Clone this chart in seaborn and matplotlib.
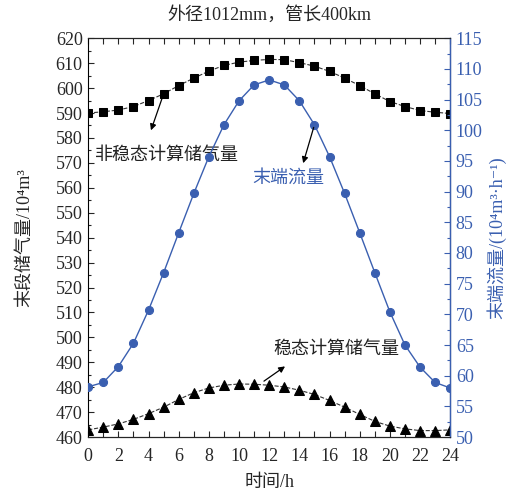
import matplotlib.pyplot as plt
import pandas as pd
import seaborn as sns
from matplotlib.ticker import MultipleLocator

sns.set_style('ticks')
plt.rcParams.update({
    'font.family': ['Liberation Serif', 'Noto Sans CJK SC', 'DejaVu Serif'],
    'font.size': 13,
    'xtick.direction': 'in',
    'ytick.direction': 'in',
    'axes.unicode_minus': False,
})

# data
hours = list(range(25))
unsteady_storage = [590.0, 590.5, 591.2, 592.6, 595.0, 597.7, 601.0, 604.0, 606.8, 609.1, 610.4,
                    611.1, 611.5, 611.4, 610.2, 608.8, 606.7, 604.0, 601.0, 597.7, 594.6,
                    592.6, 591.0, 590.3, 589.8]
steady_storage = [462.9, 464.0, 465.3, 467.1, 469.4, 472.0, 475.1, 477.8, 479.7, 480.8, 481.3,
                  481.2, 480.8, 480.1, 478.8, 477.1, 474.7, 472.0, 469.1, 466.3, 464.4,
                  463.3, 462.6, 462.6, 462.9]
end_flow = [58.2, 58.9, 61.5, 65.3, 70.7, 76.8, 83.3, 89.7, 95.7, 100.9, 104.8,
            107.4, 108.2, 107.4, 104.8, 100.9, 95.7, 89.7, 83.3, 76.8, 70.4,
            65.0, 61.4, 58.9, 58.0]

df = pd.DataFrame({'hour': hours, 'unsteady': unsteady_storage,
                   'steady': steady_storage, 'flow': end_flow})

blue = '#3a5fb0'

fig = plt.figure(figsize=(5.07, 4.9), dpi=100)
ax = fig.add_axes([0.174, 0.108, 0.714, 0.814])
ax2 = ax.twinx()

sns.lineplot(data=df, x='hour', y='unsteady', ax=ax, color='#333333', lw=0.8,
             linestyle='--', marker='s', markersize=5.5, markeredgecolor='black',
             markerfacecolor='black')
sns.lineplot(data=df, x='hour', y='steady', ax=ax, color='#333333', lw=0.8,
             linestyle='--', marker='^', markersize=7, markeredgecolor='black',
             markerfacecolor='black')
sns.lineplot(data=df, x='hour', y='flow', ax=ax2, color=blue, lw=1.0,
             marker='o', markersize=5.8, markeredgecolor=blue, markerfacecolor=blue)

ax.set_xlim(0, 24)
ax.set_ylim(460, 620)
ax2.set_ylim(50, 115)
ax.xaxis.set_major_locator(MultipleLocator(2))
ax.xaxis.set_minor_locator(MultipleLocator(1))
ax.yaxis.set_major_locator(MultipleLocator(10))
ax.yaxis.set_minor_locator(MultipleLocator(5))
ax2.yaxis.set_major_locator(MultipleLocator(5))
ax2.yaxis.set_minor_locator(MultipleLocator(2.5))

ax.tick_params(axis='x', which='both', top=True, length=4, width=0.8, pad=8, labelsize=13)
ax.tick_params(axis='y', which='major', length=4, width=0.8, labelsize=13, pad=4)
ax.tick_params(axis='y', which='minor', length=2, width=0.8)
ax2.tick_params(axis='y', which='major', length=4, width=0.8, colors=blue, labelsize=13, pad=4)
ax2.tick_params(axis='y', which='minor', length=2, width=0.8, colors=blue)

for s in ax.spines.values():
    s.set_linewidth(0.8)
    s.set_color('black')
ax2.spines['right'].set_color(blue)
ax2.spines['right'].set_linewidth(1.0)
ax2.spines['left'].set_visible(False)

ax.set_xlabel('时间/h', fontsize=13, labelpad=6)
ax.set_ylabel('末段储气量/10⁴m³', fontsize=13, labelpad=16)
ax2.set_ylabel('末端流量/(10⁴m³·h⁻¹)', fontsize=13, color=blue, labelpad=3)
ax.set_title('外径1012mm，管长400km', fontsize=13, pad=13)

# annotations
ax.annotate('', xy=(4.1, 582.0), xytext=(5, 597.7),
            arrowprops=dict(arrowstyle='-|>', color='black', lw=0.9, mutation_scale=9))
ax.text(0.45, 572.8, '非稳态计算储气量', fontsize=13, color='#222222', va='center')
ax2.annotate('', xy=(14.2, 94.2), xytext=(15, 100.9),
             arrowprops=dict(arrowstyle='-|>', color='black', lw=0.9, mutation_scale=9))
ax2.text(10.9, 92.1, '末端流量', fontsize=13, color=blue, va='center')
ax.annotate('', xy=(13.2, 489.0), xytext=(11.5, 481.8),
            arrowprops=dict(arrowstyle='-|>', color='black', lw=0.9, mutation_scale=9))
ax.text(12.25, 495.0, '稳态计算储气量', fontsize=13, color='#222222', va='center')

plt.savefig('out.png', dpi=100)
